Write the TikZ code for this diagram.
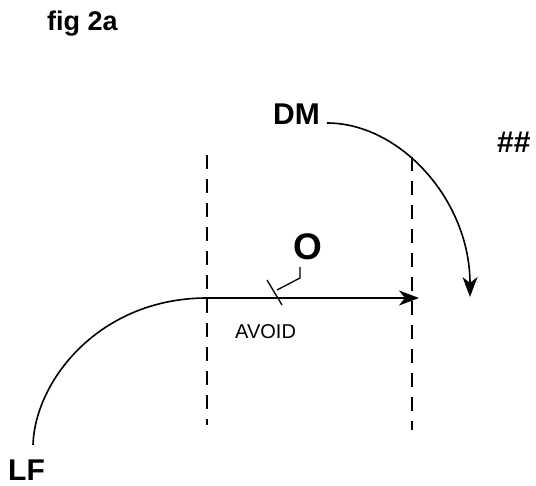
\documentclass[tikz,border=0pt]{standalone}
\usepackage{fontspec}
\setmainfont{Liberation Sans}
\usetikzlibrary{arrows.meta, positioning}

\begin{document}
\begin{tikzpicture}[
        x=1pt, y=-1pt,
        label/.style={inner sep=0pt, anchor=base west, font=\fontsize{30}{36}\selectfont\bfseries},
        small/.style={inner sep=0pt, anchor=base west, font=\fontsize{20}{24}\selectfont},
        path/.style={draw, line width=1.6pt},
        arrow/.style={draw, line width=1.6pt, -{Stealth[length=20pt, width=15pt, inset=6pt]}},
        zone/.style={draw, line width=1.6pt, dash pattern=on 14pt off 10pt}
    ]
        \useasboundingbox (0,0) rectangle (536,486);

        % Labels
        \node[label, font=\fontsize{27}{32}\selectfont\bfseries] (figlabel) at (47,31) {fig 2a};
        \node[label] (dm) at (273,125) {DM};
        \node[label] (hash) at (497,153) {\#\#};
        \node[label, font=\fontsize{37}{44}\selectfont\bfseries] (obst) at (293,260) {O};
        \node[small] (avoid) at (235,339) {AVOID};
        \node[label] (lf) at (8,481) {LF};

        % Path points
        \coordinate (lfstart) at (33,445);
        \coordinate (join) at (207,298);
        \coordinate (tip) at (419,298);
        \coordinate (dmstart) at (327,123);
        \coordinate (dmtip) at (470,297);
        \coordinate (cross) at (412,157);

        % Avoid zone
        \draw[zone] (207,155) -- (207,425);
        \draw[zone] (cross) -- (412,430);

        % Trajectory
        \draw[path] (lfstart) .. controls (35,380) and (100,298) .. (join);
        \draw[arrow] (join) -- (tip);
        \draw[arrow] (dmstart) .. controls (400,123) and (470,200) .. (dmtip);

        % Obstacle marker
        \coordinate (ob1) at (300,267);
        \coordinate (ob2) at (300,278);
        \coordinate (ob3) at (277,290);
        \draw[line width=1.3pt] (ob1) -- (ob2) -- (ob3);
        \draw[line width=1.3pt] (267,280) -- (282,305);
    \end{tikzpicture}
\end{document}
